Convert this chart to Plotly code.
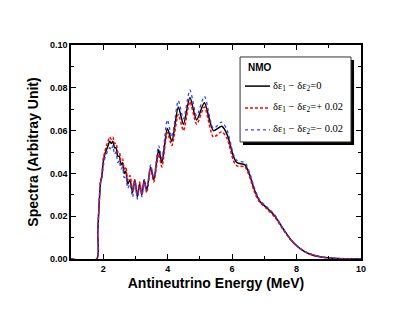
import plotly.graph_objects as go

energy = [1.00, 1.80, 1.83, 1.87, 1.92, 1.95, 2.00, 2.05, 2.10, 2.15, 2.20, 2.25, 2.30, 2.35,
          2.40, 2.45, 2.50, 2.55, 2.60, 2.65, 2.70, 2.76, 2.83, 2.91, 2.98, 3.06, 3.13, 3.20,
          3.27, 3.35, 3.47, 3.57, 3.72, 3.82, 3.99, 4.13, 4.33, 4.49, 4.69, 4.90, 5.14, 5.42,
          5.68, 5.85, 6.04, 6.15, 6.40, 6.55, 6.70, 6.86, 7.07, 7.33, 7.59, 7.85, 8.10, 8.37,
          8.73, 9.14, 9.60, 10.0]

spec_zero = [0, 0, 0.012, 0.025, 0.036, 0.038, 0.045, 0.049, 0.051, 0.053, 0.055, 0.054, 0.055, 0.052,
             0.052, 0.048, 0.048, 0.044, 0.045, 0.040, 0.041, 0.035, 0.037, 0.031, 0.037, 0.029, 0.035, 0.030,
             0.037, 0.032, 0.043, 0.037, 0.051, 0.045, 0.061, 0.055, 0.071, 0.063, 0.0755, 0.065, 0.073, 0.060,
             0.062, 0.058, 0.048, 0.045, 0.044, 0.039, 0.032, 0.027, 0.024, 0.020, 0.014, 0.0085, 0.005, 0.0026,
             0.001, 0.0003, 0.0001, 0]

spec_plus = [0, 0, 0.012, 0.025, 0.037, 0.038, 0.047, 0.050, 0.053, 0.055, 0.057, 0.056, 0.057, 0.054,
             0.054, 0.050, 0.050, 0.046, 0.047, 0.042, 0.043, 0.037, 0.039, 0.032, 0.037, 0.030, 0.036, 0.030,
             0.036, 0.031, 0.042, 0.036, 0.049, 0.043, 0.059, 0.053, 0.0675, 0.060, 0.0735, 0.063, 0.071, 0.057,
             0.0595, 0.056, 0.046, 0.0435, 0.043, 0.038, 0.031, 0.0265, 0.0235, 0.0195, 0.0135, 0.0083, 0.0049, 0.0025,
             0.001, 0.0003, 0.0001, 0]

spec_minus = [0, 0, 0.012, 0.025, 0.036, 0.037, 0.043, 0.047, 0.049, 0.051, 0.052, 0.051, 0.053, 0.049,
              0.050, 0.045, 0.046, 0.042, 0.043, 0.038, 0.039, 0.033, 0.035, 0.029, 0.036, 0.028, 0.034, 0.029,
              0.037, 0.032, 0.044, 0.038, 0.053, 0.047, 0.065, 0.057, 0.074, 0.0655, 0.079, 0.067, 0.076, 0.061,
              0.064, 0.060, 0.049, 0.046, 0.045, 0.040, 0.033, 0.0275, 0.0245, 0.0205, 0.014, 0.0087, 0.0051, 0.0027,
              0.0011, 0.0003, 0.0001, 0]

names = ["δε<sub>1</sub> − δε<sub>2</sub>=0",
         "δε<sub>1</sub> − δε<sub>2</sub>=+ 0.02",
         "δε<sub>1</sub> − δε<sub>2</sub>=− 0.02"]
legend_title = "NMO"

colors = ["black", "#ff0000", "#3344ff"]
dashes = ["solid", "3px,2px", "dot"]
widths = [1.5, 1.5, 1.3]
series = [spec_zero, spec_plus, spec_minus]

fig = go.Figure()
for nm, ys, c, d, w in zip(names, series, colors, dashes, widths):
    fig.add_trace(go.Scatter(x=energy, y=ys, mode="lines", name=nm, showlegend=False,
                             line=dict(color=c, width=w, dash=d, shape="spline", smoothing=0.7)))

# manual legend with drop shadow
shapes = [
    dict(type="rect", xref="paper", yref="paper", x0=0.593, x1=0.976, y0=0.533, y1=0.930,
         fillcolor="black", line=dict(width=0), layer="above"),
    dict(type="rect", xref="paper", yref="paper", x0=0.583, x1=0.9655, y0=0.547, y1=0.944,
         fillcolor="white", line=dict(color="#333333", width=1), layer="above"),
]
annotations = [
    dict(xref="paper", yref="paper", x=0.603, y=0.893, xanchor="left", yanchor="middle",
         text="<b>" + legend_title + "</b>", showarrow=False,
         font=dict(family="Liberation Sans", size=10, color="black")),
]
row_y = [0.808, 0.706, 0.603]
for nm, c, d, w, ry in zip(names, colors, dashes, widths, row_y):
    shapes.append(dict(type="line", xref="paper", yref="paper", x0=0.600, x1=0.686, y0=ry, y1=ry,
                       line=dict(color=c, width=w, dash=d), layer="above"))
    annotations.append(dict(xref="paper", yref="paper", x=0.688, y=ry, xanchor="left", yanchor="middle",
                            text=nm, showarrow=False,
                            font=dict(family="Liberation Serif", size=10.5, color="black")))

tickfont = dict(family="Liberation Sans", size=9, color="black", weight="bold")
titlefont = dict(family="Liberation Sans", size=14, color="black", weight="bold")

fig.update_layout(
    width=397, height=308,
    margin=dict(l=63, r=44, t=37, b=57),
    paper_bgcolor="white", plot_bgcolor="white",
    showlegend=False,
    shapes=shapes, annotations=annotations,
    xaxis=dict(range=[1, 10], dtick=2, tick0=0, ticks="inside", ticklen=5, tickwidth=1.2,
               tickcolor="black", showline=True, linecolor="black", linewidth=1.5,
               mirror="allticks", showgrid=False, zeroline=False, tickfont=tickfont,
               minor=dict(ticks="inside", dtick=1, tick0=0, ticklen=3, tickcolor="black", tickwidth=1.2),
               title=dict(text="Antineutrino Energy (MeV)", font=titlefont, standoff=6)),
    yaxis=dict(range=[0, 0.10], dtick=0.02, ticks="inside", ticklen=5, tickwidth=1.2,
               tickcolor="black", showline=True, linecolor="black", linewidth=1.5,
               mirror="allticks", showgrid=False, zeroline=False, tickfont=tickfont,
               tickformat=".2f",
               minor=dict(ticks="inside", dtick=0.01, ticklen=3, tickcolor="black", tickwidth=1.2),
               title=dict(text="Spectra (Arbitray Unit)", font=titlefont, standoff=8)),
)

fig.write_html("out.html")
